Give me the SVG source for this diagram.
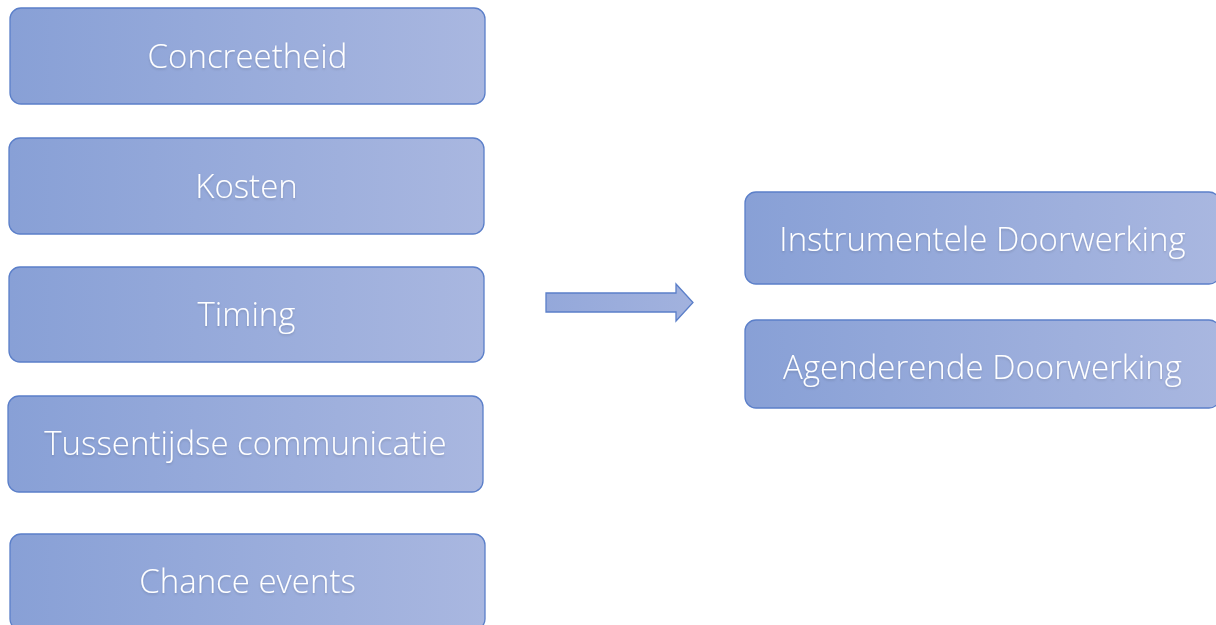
<svg xmlns="http://www.w3.org/2000/svg" width="1216" height="625" viewBox="0 0 1216 625">
<defs>
<linearGradient id="g" x1="0" y1="0" x2="1" y2="0">
<stop offset="0" stop-color="#88a0d6"/>
<stop offset="1" stop-color="#a9b7e0"/>
</linearGradient>
<linearGradient id="ga" x1="0" y1="0" x2="1" y2="0">
<stop offset="0" stop-color="#94a8da"/>
<stop offset="1" stop-color="#a2b2de"/>
</linearGradient>
<filter id="ts" x="-10%" y="-30%" width="120%" height="160%">
<feDropShadow dx="0" dy="1.5" stdDeviation="1.2" flood-color="#000" flood-opacity="0.15"/>
</filter>
<style>
.box{fill:url(#g);stroke:#5b7fc9;stroke-width:1.3}
.arrow{fill:url(#ga);stroke:#5b7fc9;stroke-width:1.3}
.lbl{font-family:"Open Sans","Lato",sans-serif;font-weight:300;font-size:33px;fill:#ffffff;text-anchor:middle;dominant-baseline:central;filter:url(#ts)}
</style>
</defs>
<rect width="1216" height="625" fill="#ffffff"/>
<g id="n1"><rect class="box" x="10" y="8" width="475" height="96" rx="11"/><text class="lbl" x="247.5" y="55">Concreetheid</text></g>
<g id="n2"><rect class="box" x="9" y="138" width="475" height="96" rx="11"/><text class="lbl" x="246.5" y="185">Kosten</text></g>
<g id="n3"><rect class="box" x="9" y="267" width="475" height="95" rx="11"/><text class="lbl" x="246.5" y="313">Timing</text></g>
<g id="n4"><rect class="box" x="8" y="396" width="475" height="96" rx="11"/><text class="lbl" x="245.5" y="442">Tussentijdse communicatie</text></g>
<g id="n5"><rect class="box" x="10" y="534" width="475" height="96" rx="11"/><text class="lbl" x="247.5" y="580">Chance events</text></g>
<g id="n6"><rect class="box" x="745" y="192" width="475" height="92" rx="11"/><text class="lbl" x="982.5" y="238">Instrumentele Doorwerking</text></g>
<g id="n7"><rect class="box" x="745" y="320" width="475" height="88" rx="11"/><text class="lbl" x="982.5" y="366">Agenderende Doorwerking</text></g>
<g id="connectors">
<path class="arrow" d="M546 293 H676 V284 L693 302.5 L676 321 V312 H546 Z"/>
</g>
</svg>
